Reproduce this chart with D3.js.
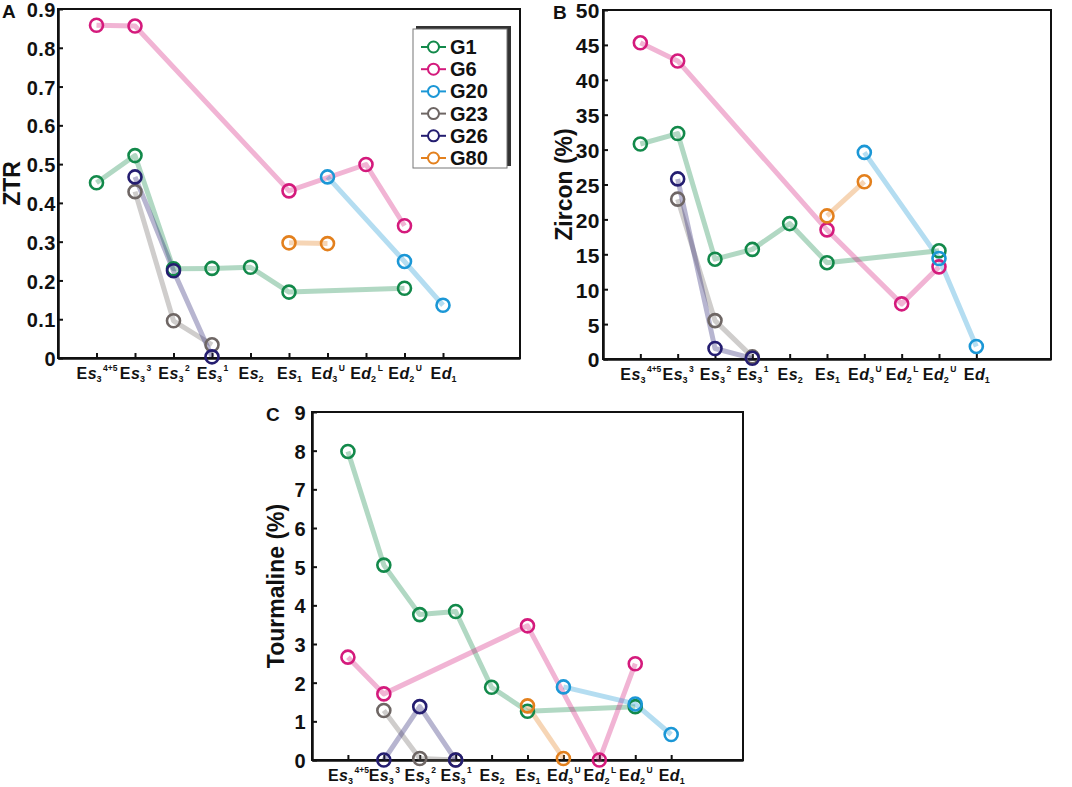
<!DOCTYPE html>
<html>
<head>
<meta charset="utf-8">
<script src="https://cdn.jsdelivr.net/npm/d3@7"></script>
<style>
  body { margin: 0; background: #fff; }
  svg { display: block; font-family: "Liberation Sans", Arial, sans-serif; font-weight: bold; }
</style>
</head>
<body>
<svg id="chart" width="1072" height="787"></svg>
<script>
// stratigraphic units (x categories) -- main letter, italic letter, subscript, superscript
var units = [
  {b: "E", i: "s", sub: "3", sup: "4+5"},
  {b: "E", i: "s", sub: "3", sup: "3"},
  {b: "E", i: "s", sub: "3", sup: "2"},
  {b: "E", i: "s", sub: "3", sup: "1"},
  {b: "E", i: "s", sub: "2", sup: ""},
  {b: "E", i: "s", sub: "1", sup: ""},
  {b: "E", i: "d", sub: "3", sup: "U"},
  {b: "E", i: "d", sub: "2", sup: "L"},
  {b: "E", i: "d", sub: "2", sup: "U"},
  {b: "E", i: "d", sub: "1", sup: ""}
];

var wells = ["G1", "G6", "G20", "G23", "G26", "G80"];
var wellColors = ["#12894a", "#d41a7c", "#1b97d6", "#6e6664", "#241d70", "#e3801d"];

// A: ZTR
var ztrG1  = [0.452, 0.522, 0.230, 0.231, 0.234, 0.170, null, null, 0.180, null];
var ztrG6  = [0.858, 0.856, null, null, null, 0.431, null, 0.499, 0.341, null];
var ztrG20 = [null, null, null, null, null, null, 0.467, null, 0.249, 0.136];
var ztrG23 = [null, 0.429, 0.096, 0.034, null, null, null, null, null, null];
var ztrG26 = [null, 0.467, 0.225, 0.003, null, null, null, null, null, null];
var ztrG80 = [null, null, null, null, null, 0.297, 0.295, null, null, null];

// B: Zircon (%)
var zirG1  = [30.8, 32.3, 14.3, 15.7, 19.4, 13.8, null, null, 15.5, null];
var zirG6  = [45.3, 42.7, null, null, null, 18.5, null, 7.9, 13.2, null];
var zirG20 = [null, null, null, null, null, null, 29.6, null, 14.4, 1.8];
var zirG23 = [null, 22.9, 5.5, 0.3, null, null, null, null, null, null];
var zirG26 = [null, 25.8, 1.5, 0.1, null, null, null, null, null, null];
var zirG80 = [null, null, null, null, null, 20.5, 25.4, null, null, null];

// C: Tourmaline (%)
var turG1  = [7.98, 5.04, 3.76, 3.84, 1.88, 1.26, null, null, 1.38, null];
var turG6  = [2.66, 1.71, null, null, null, 3.47, null, 0.0, 2.49, null];
var turG20 = [null, null, null, null, null, null, 1.89, null, 1.45, 0.66];
var turG23 = [null, 1.28, 0.04, 0.0, null, null, null, null, null, null];
var turG26 = [null, 0.0, 1.38, 0.0, null, null, null, null, null, null];
var turG80 = [null, null, null, null, null, 1.40, 0.04, null, null, null];

var ztrTicks = [0, 0.1, 0.2, 0.3, 0.4, 0.5, 0.6, 0.7, 0.8, 0.9];
var zirTicks = [0, 5, 10, 15, 20, 25, 30, 35, 40, 45, 50];
var turTicks = [0, 1, 2, 3, 4, 5, 6, 7, 8, 9];

var panels = [
  {tag: "A", title: "ZTR", series: [ztrG1, ztrG6, ztrG20, ztrG23, ztrG26, ztrG80], ticks: ztrTicks, max: 0.9,
   left: 58, right: 520, top: 9, bottom: 358, fs: 20, pad: 2, tagX: 2, titleX: 20, legend: true,
   fmt: function(d){ return d === 0 ? "0" : d3.format(".1f")(d); }},
  {tag: "B", title: "Zircon (%)", series: [zirG1, zirG6, zirG20, zirG23, zirG26, zirG80], ticks: zirTicks, max: 50,
   left: 603, right: 1051, top: 10, bottom: 359, fs: 21, pad: 3, tagX: 553, titleX: 572, legend: false,
   fmt: d3.format("d")},
  {tag: "C", title: "Tourmaline (%)", series: [turG1, turG6, turG20, turG23, turG26, turG80], ticks: turTicks, max: 9,
   left: 312, right: 743, top: 412, bottom: 760, fs: 20, pad: 6, tagX: 266, titleX: 284, legend: false,
   fmt: d3.format("d")}
];

var svg = d3.select("#chart");

panels.forEach(function(p){
  var g = svg.append("g");
  var x = d3.scaleLinear().domain([-1, 11]).range([p.left, p.right]);
  var y = d3.scaleLinear().domain([0, p.max]).range([p.bottom, p.top]);

  // frame
  g.append("rect")
    .attr("x", p.left).attr("y", p.top)
    .attr("width", p.right - p.left).attr("height", p.bottom - p.top)
    .attr("fill", "none").attr("stroke", "#111").attr("stroke-width", 2);

  // y axis, inward ticks
  var ya = g.append("g")
    .attr("transform", "translate(" + p.left + ",0)")
    .call(d3.axisLeft(y).tickValues(p.ticks).tickSizeInner(-5).tickSizeOuter(0).tickPadding(p.pad).tickFormat(p.fmt));
  ya.select(".domain").attr("stroke", "#111").attr("stroke-width", 2.5);
  ya.selectAll(".tick line").attr("stroke", "#111").attr("stroke-width", 2);
  ya.selectAll(".tick text").attr("font-size", p.fs).attr("font-weight", "bold").attr("fill", "#111")
    .attr("letter-spacing", 0.5).attr("dy", "0.38em")
    .attr("font-family", "Liberation Sans, Arial, sans-serif");

  // x axis, inward ticks, custom labels with sub/superscripts
  var xa = g.append("g")
    .attr("transform", "translate(0," + p.bottom + ")")
    .call(d3.axisBottom(x).tickValues(d3.range(units.length)).tickSizeInner(-5).tickSizeOuter(0).tickFormat(""));
  xa.select(".domain").attr("stroke", "#111").attr("stroke-width", 2.5);
  xa.selectAll(".tick line").attr("stroke", "#111").attr("stroke-width", 2);
  xa.selectAll(".tick text").remove();
  xa.selectAll(".tick").each(function(d){
    var u = units[d];
    var t = d3.select(this).append("text")
      .attr("y", 21).attr("text-anchor", "middle")
      .attr("fill", "#111").attr("font-size", 16).attr("font-weight", "bold")
      .attr("font-family", "Liberation Sans, Arial, sans-serif");
    t.append("tspan").text(u.b);
    t.append("tspan").attr("font-style", "italic").attr("dx", 0.5).text(u.i);
    t.append("tspan").attr("font-size", 9).attr("dy", 3).text(u.sub);
    if (u.sup) t.append("tspan").attr("font-size", 8.5).attr("dy", -11).attr("dx", 1.5).text(u.sup);
  });

  // y title
  g.append("text")
    .attr("transform", "translate(" + p.titleX + "," + ((p.top + p.bottom) / 2) + ") rotate(-90)")
    .attr("text-anchor", "middle").attr("font-size", 23).attr("fill", "#111")
    .text(p.title);

  // panel letter
  g.append("text")
    .attr("x", p.tagX).attr("y", p.top + 9)
    .attr("font-size", 19).attr("fill", "#111")
    .text(p.tag);

  var line = d3.line().x(function(d){ return x(d.i); }).y(function(d){ return y(d.v); });
  var pts = p.series.map(function(s){
    return s.map(function(v, i){ return {i: i, v: v}; }).filter(function(d){ return d.v !== null; });
  });

  // pale connecting lines
  g.selectAll(".wline")
    .data(pts)
    .join("path")
    .attr("class", "wline")
    .attr("d", line)
    .attr("fill", "none")
    .attr("stroke", function(d, k){ return wellColors[k]; })
    .attr("stroke-opacity", 0.33)
    .attr("stroke-width", 5)
    .attr("stroke-linejoin", "round");

  // open circles
  pts.forEach(function(s, k){
    g.selectAll(".dot" + k)
      .data(s)
      .join("circle")
      .attr("class", "dot" + k)
      .attr("cx", function(d){ return x(d.i); })
      .attr("cy", function(d){ return y(d.v); })
      .attr("r", 6.5)
      .attr("fill", "none")
      .attr("stroke", wellColors[k])
      .attr("stroke-width", 2.6);
  });

  if (p.legend) {
    var lg = g.append("g");
    lg.append("rect").attr("x", 416).attr("y", 26).attr("width", 95).attr("height", 140).attr("fill", "#333");
    lg.append("rect").attr("x", 413).attr("y", 29).attr("width", 94).attr("height", 139)
      .attr("fill", "#fff").attr("stroke", "#777").attr("stroke-width", 1);
    wells.forEach(function(w, k){
      var cy = 47 + k * 22.2;
      lg.append("line").attr("x1", 421).attr("x2", 446).attr("y1", cy).attr("y2", cy)
        .attr("stroke", wellColors[k]).attr("stroke-width", 2);
      lg.append("circle").attr("cx", 433.5).attr("cy", cy).attr("r", 5.5)
        .attr("fill", "#fff").attr("stroke", wellColors[k]).attr("stroke-width", 2);
      lg.append("text").attr("x", 450).attr("y", cy + 7).attr("font-size", 20).attr("fill", "#111").text(w);
    });
  }
});
</script>
</body>
</html>
